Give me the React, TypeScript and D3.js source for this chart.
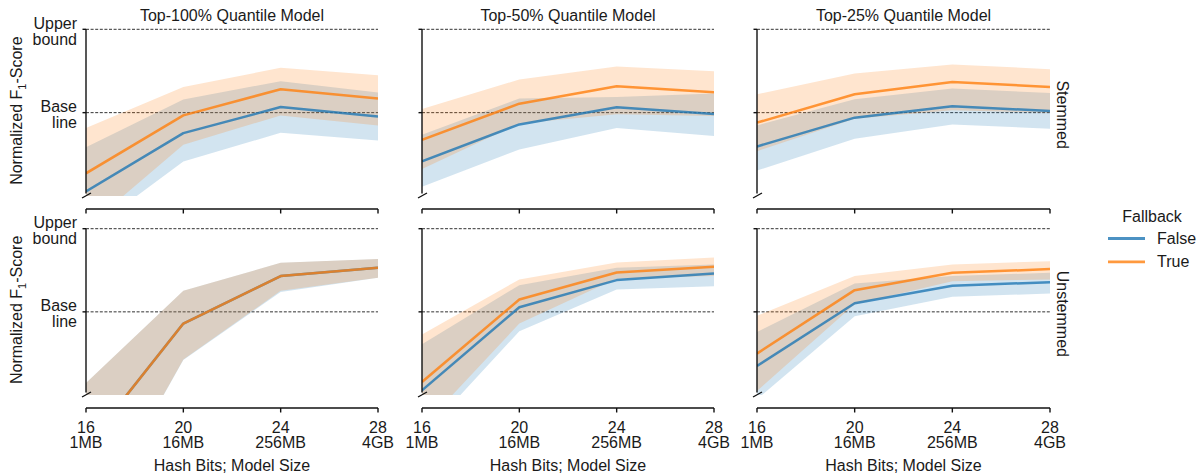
import React from "react";
import * as d3 from "d3";

// ---------- data (normalized F1: 0 = baseline, 1 = upper bound) ----------
const hashBits = [16, 20, 24, 28];
const sizeLabels = ["1MB", "16MB", "256MB", "4GB"];
const quantiles = ["Top-100%", "Top-50%", "Top-25%"];
const stemming = ["Stemmed", "Unstemmed"];
const fallbackLevels = ["False", "True"];

// Stemmed
const stem100FalseMean = [-0.944, -0.246, 0.067, -0.045];
const stem100FalseLo = [-1.45, -0.587, -0.241, -0.334];
const stem100FalseHi = [-0.414, 0.157, 0.377, 0.241];
const stem100TrueMean = [-0.728, -0.033, 0.281, 0.169];
const stem100TrueLo = [-1.38, -0.386, -0.033, -0.153];
const stem100TrueHi = [-0.185, 0.309, 0.538, 0.45];

const stem50FalseMean = [-0.583, -0.141, 0.064, -0.016];
const stem50FalseLo = [-0.888, -0.442, -0.185, -0.28];
const stem50FalseHi = [-0.265, 0.169, 0.188, 0.229];
const stem50TrueMean = [-0.325, 0.108, 0.317, 0.245];
const stem50TrueLo = [-0.675, -0.13, -0.02, -0.04];
const stem50TrueHi = [0.043, 0.398, 0.554, 0.498];

const stem25FalseMean = [-0.406, -0.06, 0.076, 0.02];
const stem25FalseLo = [-0.695, -0.313, -0.141, -0.193];
const stem25FalseHi = [-0.153, 0.16, 0.289, 0.236];
const stem25TrueMean = [-0.12, 0.22, 0.369, 0.309];
const stem25TrueLo = [-0.462, -0.072, 0.028, 0.0];
const stem25TrueHi = [0.22, 0.47, 0.578, 0.522];

// Unstemmed
const unst100FalseMean = [-1.618, -0.141, 0.43, 0.53];
const unst100FalseLo = [-2.66, -0.58, 0.24, 0.41];
const unst100FalseHi = [-0.855, 0.253, 0.59, 0.635];
const unst100TrueMean = [-1.618, -0.141, 0.43, 0.53];
const unst100TrueLo = [-2.66, -0.574, 0.253, 0.41];
const unst100TrueHi = [-0.855, 0.253, 0.59, 0.635];

const unst50FalseMean = [-0.944, 0.056, 0.382, 0.462];
const unst50FalseLo = [-1.5, -0.233, 0.269, 0.309];
const unst50FalseHi = [-0.39, 0.321, 0.53, 0.57];
const unst50TrueMean = [-0.843, 0.149, 0.474, 0.542];
const unst50TrueLo = [-1.39, -0.14, 0.4, 0.43];
const unst50TrueHi = [-0.273, 0.39, 0.594, 0.655];

const unst25FalseMean = [-0.651, 0.104, 0.313, 0.357];
const unst25FalseLo = [-1.05, -0.052, 0.181, 0.221];
const unst25FalseHi = [-0.241, 0.34, 0.43, 0.47];
const unst25TrueMean = [-0.502, 0.261, 0.47, 0.514];
const unst25TrueLo = [-0.952, 0.092, 0.369, 0.39];
const unst25TrueHi = [-0.048, 0.43, 0.57, 0.61];

type Series = { mean: number[]; lo: number[]; hi: number[] };
const panelData: Series[][][] = [
  [
    [
      { mean: stem100FalseMean, lo: stem100FalseLo, hi: stem100FalseHi },
      { mean: stem100TrueMean, lo: stem100TrueLo, hi: stem100TrueHi },
    ],
    [
      { mean: stem50FalseMean, lo: stem50FalseLo, hi: stem50FalseHi },
      { mean: stem50TrueMean, lo: stem50TrueLo, hi: stem50TrueHi },
    ],
    [
      { mean: stem25FalseMean, lo: stem25FalseLo, hi: stem25FalseHi },
      { mean: stem25TrueMean, lo: stem25TrueLo, hi: stem25TrueHi },
    ],
  ],
  [
    [
      { mean: unst100FalseMean, lo: unst100FalseLo, hi: unst100FalseHi },
      { mean: unst100TrueMean, lo: unst100TrueLo, hi: unst100TrueHi },
    ],
    [
      { mean: unst50FalseMean, lo: unst50FalseLo, hi: unst50FalseHi },
      { mean: unst50TrueMean, lo: unst50TrueLo, hi: unst50TrueHi },
    ],
    [
      { mean: unst25FalseMean, lo: unst25FalseLo, hi: unst25FalseHi },
      { mean: unst25TrueMean, lo: unst25TrueLo, hi: unst25TrueHi },
    ],
  ],
];

// ---------- layout ----------
const W = 1203;
const H = 475;
const colX: [number, number][] = [
  [86, 378],
  [422, 714],
  [757, 1050],
];
const rowY: [number, number][] = [
  [196, 29.3],
  [395, 228.7],
];
const COLORS = ["#1f77b4", "#ff7f0e"];
const FONT = "'Liberation Sans', Arial, Helvetica, sans-serif";
const TXT = "#1a1a1a";
const FS = 16;
const LW = 2.5;

function Panel({ r, c }: { r: number; c: number }) {
  const x = d3.scaleLinear().domain([16, 28]).range(colX[c]);
  const y = d3.scaleLinear().domain([-1, 1]).range(rowY[r]);
  const [x0, x1] = colX[c];
  const yb = y(-1);
  const axisY = yb + 13;
  const clipId = `clip-${r}-${c}`;
  const series = panelData[r][c];

  const area = (s: Series) =>
    d3
      .area<number>()
      .x((_, i) => x(hashBits[i]))
      .y0((_, i) => y(s.lo[i]))
      .y1((_, i) => y(s.hi[i]))(hashBits);
  const line = (s: Series) =>
    d3
      .line<number>()
      .x((_, i) => x(hashBits[i]))
      .y((_, i) => y(s.mean[i]))(hashBits);

  return (
    <g>
      <defs>
        <clipPath id={clipId}>
          <rect x={x0} y={y(1) - 12} width={x1 - x0} height={yb - y(1) + 12} />
        </clipPath>
      </defs>
      {/* reference lines */}
      {[1, 0].map((v) => (
        <line
          key={v}
          x1={x0}
          x2={x1}
          y1={y(v)}
          y2={y(v)}
          stroke="#333"
          strokeWidth={1}
          strokeDasharray="3 1.6"
        />
      ))}
      <g clipPath={`url(#${clipId})`}>
        {series.map((s, i) => (
          <path key={"a" + i} d={area(s) || ""} fill={COLORS[i]} fillOpacity={0.2} stroke="none" />
        ))}
        {series.map((s, i) => (
          <path
            key={"l" + i}
            d={line(s) || ""}
            fill="none"
            stroke={COLORS[i]}
            strokeOpacity={0.8}
            strokeWidth={LW}
            strokeLinejoin="round"
          />
        ))}
      </g>
      {/* y spine with break */}
      <line x1={x0} x2={x0} y1={y(1)} y2={yb - 2.5} stroke="#111" strokeWidth={1.4} />
      <line x1={x0 - 4} x2={x0 + 5} y1={yb + 2} y2={yb - 3} stroke="#111" strokeWidth={1.4} />
      {[1, 0].map((v) => (
        <line key={"t" + v} x1={x0 - 3.5} x2={x0} y1={y(v)} y2={y(v)} stroke="#111" strokeWidth={1.4} />
      ))}
      {/* x axis */}
      <line x1={x0} x2={x1} y1={axisY} y2={axisY} stroke="#111" strokeWidth={1.4} />
      {hashBits.map((b) => (
        <line key={"xt" + b} x1={x(b)} x2={x(b)} y1={axisY} y2={axisY + 4.5} stroke="#111" strokeWidth={1.4} />
      ))}
      {r === 1 &&
        hashBits.map((b, i) => (
          <text
            key={"xl" + b}
            x={x(b)}
            textAnchor="middle"
            fontFamily={FONT}
            fontSize={FS}
            fill={TXT}
          >
            <tspan x={x(b)} y={axisY + 24.5}>
              {b}
            </tspan>
            <tspan x={x(b)} y={axisY + 39.5}>
              {sizeLabels[i]}
            </tspan>
          </text>
        ))}
      {r === 1 && (
        <text
          x={(x0 + x1) / 2}
          y={axisY + 62.5}
          textAnchor="middle"
          fontFamily={FONT}
          fontSize={FS}
          fill={TXT}
        >
          Hash Bits; Model Size
        </text>
      )}
      {r === 0 && (
        <text x={(x0 + x1) / 2} y={20.5} textAnchor="middle" fontFamily={FONT} fontSize={FS} fill={TXT}>
          {quantiles[c]} Quantile Model
        </text>
      )}
      {c === 0 && (
        <g fontFamily={FONT} fontSize={FS} fill={TXT} textAnchor="end">
          <text x={77} y={y(1) - 0.5}>Upper</text>
          <text x={77} y={y(1) + 15.5}>bound</text>
          <text x={77} y={y(0) - 0.5}>Base</text>
          <text x={77} y={y(0) + 15.5}>line</text>
          <text
            transform={`translate(22, ${(y(1) + yb) / 2 - 2}) rotate(-90)`}
            textAnchor="middle"
          >
            Normalized F
            <tspan fontSize={11} dy={4}>
              1
            </tspan>
            <tspan dy={-4}>-Score</tspan>
          </text>
        </g>
      )}
      {c === 2 && (
        <text
          transform={`translate(1057, ${(y(1) + yb) / 2 + 2}) rotate(90)`}
          textAnchor="middle"
          fontFamily={FONT}
          fontSize={FS}
          fill={TXT}
        >
          {stemming[r]}
        </text>
      )}
    </g>
  );
}

export default function App() {
  return (
    <svg
      width={W}
      height={H}
      viewBox={`0 0 ${W} ${H}`}
      style={{ position: "absolute", left: 0, top: 0, background: "#fff" }}
    >
      <rect width={W} height={H} fill="#fff" />
      {stemming.map((_, r) => quantiles.map((_, c) => <Panel key={`${r}-${c}`} r={r} c={c} />))}
      {/* legend */}
      <g fontFamily={FONT} fontSize={FS} fill={TXT}>
        <text x={1152} y={221.5} textAnchor="middle">
          Fallback
        </text>
        {fallbackLevels.map((lvl, i) => (
          <g key={lvl}>
            <line
              x1={1108}
              x2={1145}
              y1={238.5 + i * 23.3}
              y2={238.5 + i * 23.3}
              stroke={COLORS[i]}
              strokeOpacity={0.8}
              strokeWidth={LW + 0.3}
            />
            <text x={1157} y={244 + i * 23.3}>
              {lvl}
            </text>
          </g>
        ))}
      </g>
    </svg>
  );
}
